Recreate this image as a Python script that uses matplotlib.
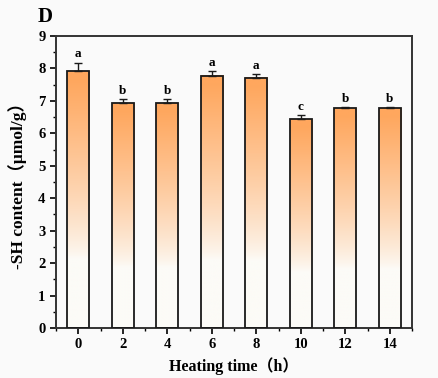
import matplotlib
matplotlib.use("Agg")
import matplotlib.pyplot as plt
import numpy as np
from matplotlib.colors import LinearSegmentedColormap
from matplotlib.ticker import MultipleLocator

times = [0, 2, 4, 6, 8, 10, 12, 14]
values = [7.92, 6.92, 6.92, 7.78, 7.71, 6.44, 6.78, 6.78]
errors = [0.25, 0.13, 0.13, 0.13, 0.11, 0.11, 0.02, 0.02]
letters = ["a", "b", "b", "a", "a", "c", "b", "b"]

serif = ["Liberation Serif", "DejaVu Serif"]
fp_mixed = ["Liberation Serif", "Noto Sans CJK SC"]

fig = plt.figure(figsize=(4.39, 3.78), dpi=100, facecolor="#fafafa")
ax = fig.add_axes([0.1276, 0.1323, 0.8109, 0.7725])
ax.set_facecolor("#fafafa")

cmap = LinearSegmentedColormap.from_list("og", ["#fcfbf7", "#ffa75e"])
frac = np.linspace(0, 1, 300).reshape(-1, 1)
tvals = np.clip((frac - 0.27) / (0.97 - 0.27), 0, 1) ** 0.8

bars = ax.bar(times, values, width=1.0, color="none", edgecolor="#1a1a1a", linewidth=1.3, zorder=3)
for b in bars:
    x0 = b.get_x()
    w = b.get_width()
    h = b.get_height()
    ax.imshow(tvals, cmap=cmap, vmin=0, vmax=1, extent=(x0, x0 + w, 0, h),
              origin="lower", aspect="auto", zorder=2, interpolation="bilinear")

ax.errorbar(times, values, yerr=[np.zeros(len(errors)), errors], fmt="none",
            ecolor="#1a1a1a", elinewidth=1.0, capsize=3, capthick=1.0, zorder=4)

for t, v, e, l in zip(times, values, errors, letters):
    ax.text(t, v + e + 0.08, l, ha="center", va="bottom", fontsize=9.5,
            fontweight="bold", family=serif, zorder=5)

ax.set_xlim(-1, 15)
ax.set_ylim(0, 9)
ax.set_xticks(times)
ax.xaxis.set_minor_locator(MultipleLocator(1))
ax.yaxis.set_major_locator(MultipleLocator(1))
ax.yaxis.set_minor_locator(MultipleLocator(0.5))
ax.tick_params(which="major", direction="out", length=4, width=1.2, labelsize=10.5)
ax.tick_params(which="minor", direction="out", length=2.5, width=1.0)
for lab in ax.get_xticklabels() + ax.get_yticklabels():
    lab.set_fontfamily(serif)
    lab.set_fontweight("bold")
for s in ax.spines.values():
    s.set_linewidth(1.4)
    s.set_color("#333333")

ax.set_xlabel("Heating time（h）", fontsize=11.5, fontweight="bold", family=fp_mixed, labelpad=4)
ax.set_ylabel("-SH content（μmol/g）", fontsize=12.5, fontweight="bold", family=fp_mixed, labelpad=8)

fig.text(0.085, 0.955, "D", fontsize=15, fontweight="bold", family=serif, ha="left", va="center")

fig.savefig("out.png", dpi=100, facecolor=fig.get_facecolor())
